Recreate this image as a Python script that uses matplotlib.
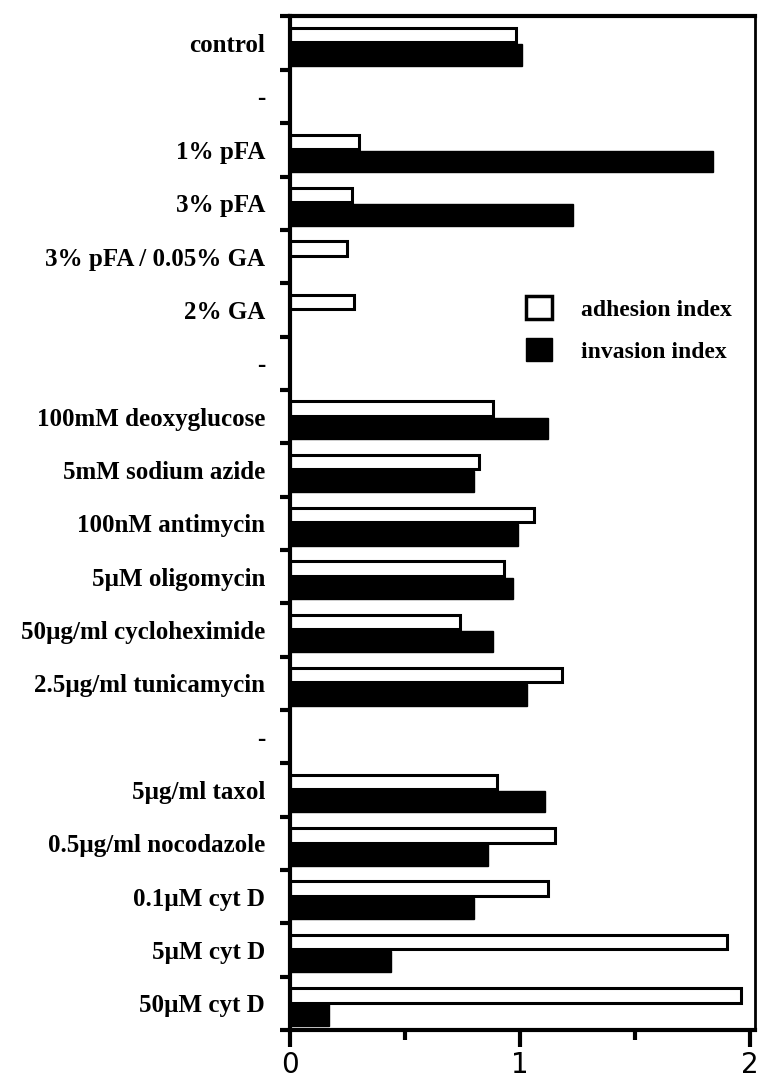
import matplotlib
matplotlib.use("Agg")
import matplotlib.pyplot as plt
from matplotlib.patches import Patch
import numpy as np

# rows from top to bottom ("-" rows are spacer rows)
labels = ["control", "-", "1% pFA", "3% pFA", "3% pFA / 0.05% GA", "2% GA", "-",
          "100mM deoxyglucose", "5mM sodium azide", "100nM antimycin",
          "5µM oligomycin", "50µg/ml cycloheximide", "2.5µg/ml tunicamycin", "-",
          "5µg/ml taxol", "0.5µg/ml nocodazole", "0.1µM cyt D", "5µM cyt D", "50µM cyt D"]

adhesion = [0.98, 0, 0.30, 0.27, 0.25, 0.28, 0,
            0.88, 0.82, 1.06, 0.93, 0.74, 1.18, 0,
            0.90, 1.15, 1.12, 1.90, 1.96]
invasion = [1.01, 0, 1.84, 1.23, 0, 0, 0,
            1.12, 0.80, 0.99, 0.97, 0.88, 1.03, 0,
            1.11, 0.86, 0.80, 0.44, 0.17]

plt.rcParams["font.family"] = ["Liberation Serif", "DejaVu Serif"]
plt.rcParams["font.weight"] = "bold"

fig = plt.figure(figsize=(7.61, 10.84), dpi=100)
ax = fig.add_axes([0.381, 0.0498, 0.611, 0.935])

y = np.arange(len(labels))

# white bars (adhesion) sit above the black bars (invasion) in each row
for yi, v in zip(y, adhesion):
    if v > 0:
        ax.barh(yi - 0.15, v, height=0.27, color="white", edgecolor="black", linewidth=2.2)
for yi, v in zip(y, invasion):
    if v > 0:
        ax.barh(yi + 0.22, v, height=0.40, color="black", edgecolor="black", linewidth=1)

ax.set_xlim(0, 2.02)
ax.set_ylim(len(labels) - 0.5, -0.5)

ax.set_yticks(y)
ax.set_yticklabels(labels, fontsize=18, fontweight="bold")
ax.set_yticks(np.arange(len(labels) + 1) - 0.5, minor=True)
ax.tick_params(axis="y", which="major", length=0, pad=18)
ax.tick_params(axis="y", which="minor", direction="out", length=7, width=3)

ax.set_xticks([0, 1, 2])
ax.set_xticklabels(["0", "1", "2"], fontsize=20, family="DejaVu Sans", fontweight="normal")
ax.set_xticks([0.5, 1.5], minor=True)
ax.tick_params(axis="x", which="major", direction="out", length=12, width=3, pad=3)
ax.tick_params(axis="x", which="minor", direction="out", length=7, width=3)

for side in ["left", "bottom", "top"]:
    ax.spines[side].set_linewidth(3)
ax.spines["right"].set_linewidth(2)

handles = [Patch(facecolor="white", edgecolor="black", linewidth=2.5, label="adhesion index"),
           Patch(facecolor="black", edgecolor="black", label="invasion index")]
ax.legend(handles=handles, loc="upper left", bbox_to_anchor=(0.507, 0.724),
          frameon=False, handlelength=1.1, handleheight=1.1,
          handletextpad=1.25, labelspacing=0.75, borderpad=0, borderaxespad=0,
          prop={"weight": "bold", "size": 17})

fig.savefig("out.png", dpi=100)
